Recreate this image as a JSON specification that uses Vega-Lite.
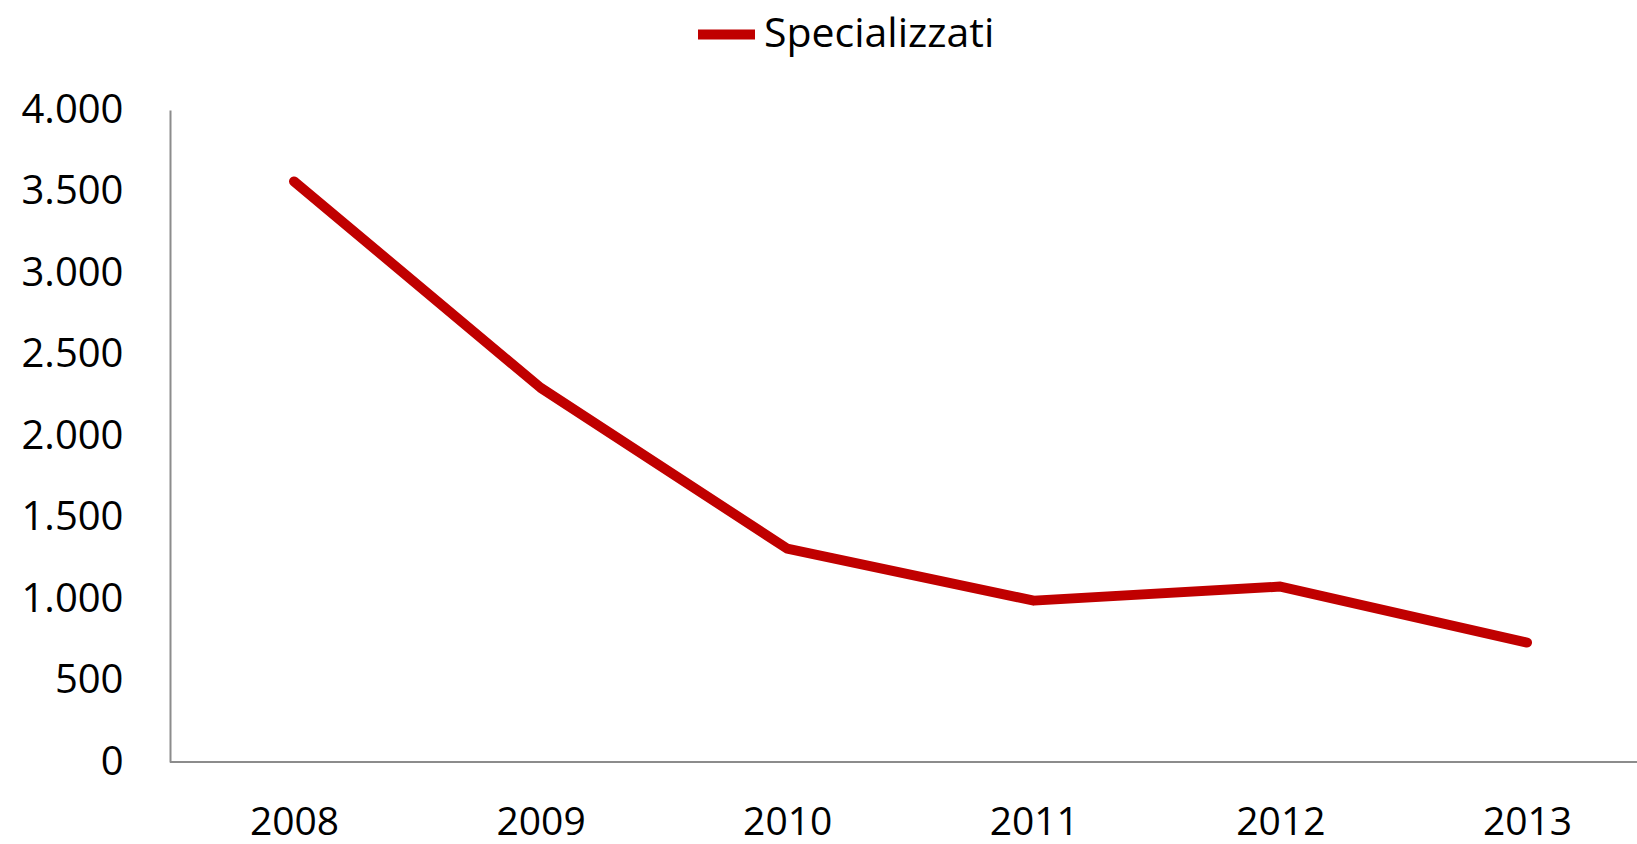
{
  "$schema": "https://vega.github.io/schema/vega-lite/v6.json",
  "autosize": "none",
  "width": 1467,
  "height": 652,
  "padding": {"left": 170, "top": 110, "right": 0, "bottom": 82},
  "background": "white",
  "config": {"view": {"stroke": null}, "font": "Open Sans"},
  "data": {
    "values": [
      {"anno": "2008", "valore": 3562, "serie": "Specializzati"},
      {"anno": "2009", "valore": 2296, "serie": "Specializzati"},
      {"anno": "2010", "valore": 1309, "serie": "Specializzati"},
      {"anno": "2011", "valore": 990, "serie": "Specializzati"},
      {"anno": "2012", "valore": 1076, "serie": "Specializzati"},
      {"anno": "2013", "valore": 733, "serie": "Specializzati"}
    ]
  },
  "layer": [
    {
      "mark": {"type": "rule", "color": "#8c8c8c", "strokeWidth": 2},
      "encoding": {"y": {"datum": 0, "type": "quantitative"}}
    },
    {
      "mark": {"type": "line", "strokeWidth": 10, "strokeCap": "round", "strokeJoin": "round"},
      "encoding": {
        "x": {
          "field": "anno",
          "type": "ordinal",
          "scale": {"type": "point", "range": [124, 1357], "padding": 0},
          "axis": {
            "title": null,
            "domain": false,
            "ticks": false,
            "grid": false,
            "labelAngle": 0,
            "labelFont": "Open Sans",
            "labelFontSize": 39,
            "labelColor": "#000000",
            "labelPadding": 41
          }
        },
        "y": {
          "field": "valore",
          "type": "quantitative",
          "scale": {"domain": [0, 4000], "nice": false},
          "axis": {
            "title": null,
            "values": [0, 500, 1000, 1500, 2000, 2500, 3000, 3500, 4000],
            "labelExpr": "replace(format(datum.value, ','), ',', '.')",
            "domain": true,
            "domainColor": "#8c8c8c",
            "domainWidth": 2,
            "ticks": false,
            "grid": false,
            "labelFont": "Open Sans",
            "labelFontSize": 40,
            "labelColor": "#000000",
            "labelPadding": 47
          }
        },
        "color": {
          "field": "serie",
          "type": "nominal",
          "scale": {"range": ["#C00000"]},
          "legend": {
            "title": null,
            "orient": "none",
            "legendX": 523,
            "legendY": -109,
            "padding": 0,
            "symbolType": "stroke",
            "symbolSize": 3249,
            "symbolStrokeWidth": 10,
            "labelFont": "Open Sans",
            "labelFontSize": 41,
            "labelColor": "#000000",
            "labelOffset": 4,
            "labelLimit": 600
          }
        }
      }
    }
  ]
}
